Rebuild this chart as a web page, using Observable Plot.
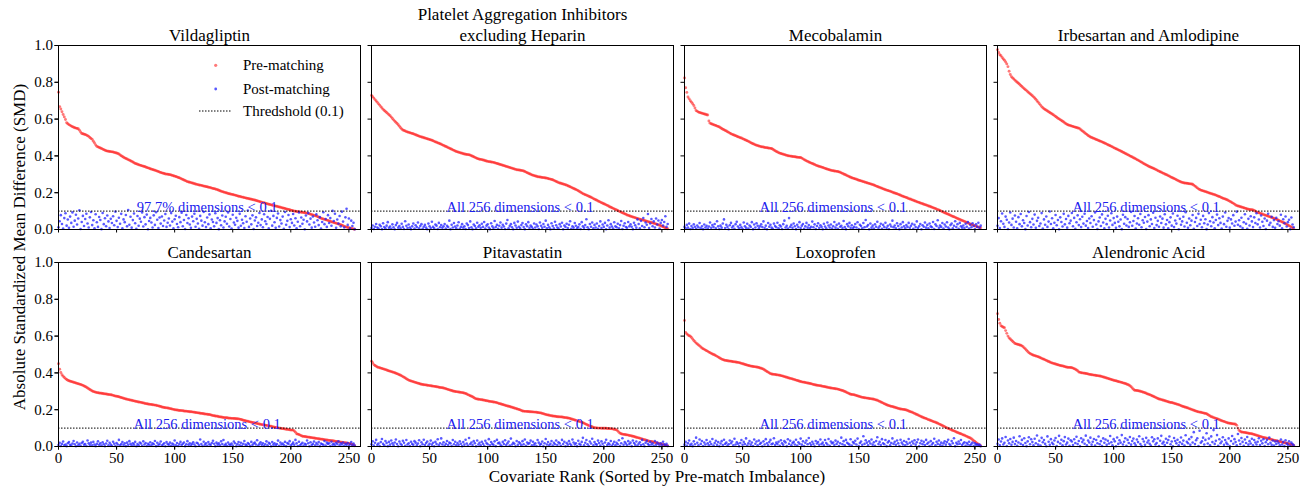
<!DOCTYPE html>
<html>
<head>
<meta charset="utf-8">
<script src="https://cdn.jsdelivr.net/npm/d3@7"></script>
<script src="https://cdn.jsdelivr.net/npm/@observablehq/plot@0.6"></script>
<style>
  html, body { margin: 0; padding: 0; background: #fff; }
  body { font-family: "Liberation Serif", "DejaVu Serif", serif; color: #000; }
  #wrap { position: relative; width: 1307px; height: 491px; overflow: hidden; }
  #wrap svg { display: block; }
  .ylab { position: absolute; left: 20px; top: 247px; transform: translate(-50%, -50%) rotate(-90deg); white-space: nowrap; font-size: 17px; }
  .xlab { position: absolute; left: 657px; top: 477px; transform: translate(-50%, -50%); white-space: nowrap; font-size: 17px; }
  .legend { position: absolute; left: 190px; top: 52px; }
</style>
</head>
<body>
<div id="wrap"></div>
<script>
// ---- data (SMD values stored in thousandths) ----
const drugs = ["Vildagliptin", "Platelet Aggregation Inhibitors\nexcluding Heparin", "Mecobalamin", "Irbesartan and Amlodipine",
               "Candesartan", "Pitavastatin", "Loxoprofen", "Alendronic Acid"];
const notes = ["97.7% dimensions < 0.1", "All 256 dimensions < 0.1", "All 256 dimensions < 0.1", "All 256 dimensions < 0.1",
               "All 256 dimensions < 0.1", "All 256 dimensions < 0.1", "All 256 dimensions < 0.1", "All 256 dimensions < 0.1"];
const threshold = 0.1;
const xTicks = [0, 50, 100, 150, 200, 250];
const yTicks = [0, 0.2, 0.4, 0.6, 0.8, 1.0];
const seriesNames = ["Pre-matching", "Post-matching", "Thredshold (0.1)"];

const preVildagliptin = [746,668,655,640,625,612,598,580,575,570,566,562,559,556,553,551,
549,548,540,530,522,520,518,516,513,510,506,500,495,490,480,470,
460,452,449,446,443,440,437,434,431,428,426,425,424,423,422,421,
419,417,416,413,410,405,401,397,393,389,386,383,380,377,374,370,
367,363,359,357,355,352,350,348,346,344,342,340,337,335,333,330,
328,326,324,322,320,317,315,312,310,308,306,304,302,301,300,299,
298,296,294,292,290,288,286,283,281,278,275,272,269,266,263,260,
258,257,255,253,251,249,247,245,244,242,241,240,238,236,235,233,
232,230,229,227,225,223,222,220,218,216,213,211,208,206,204,202,
200,198,196,194,193,191,190,188,187,185,183,181,180,178,176,175,
173,172,170,169,167,166,164,163,161,160,158,156,154,152,150,148,
146,145,143,141,139,137,136,134,132,131,129,127,126,124,122,121,
119,117,116,114,112,111,109,107,105,103,102,100,99,98,97,96,
95,94,93,92,91,90,89,87,85,83,81,79,77,75,73,71,
67,64,61,59,57,55,53,51,49,47,44,42,40,38,36,34,
32,30,28,26,24,21,17,15,13,11,10,8,6,5,3,1];
const postVildagliptin = [12,45,78,30,5,62,88,21,54,9,70,36,93,15,48,80,
27,60,104,3,41,74,19,57,86,33,11,66,95,24,50,7,
83,39,14,68,52,2,90,29,61,18,76,44,8,58,35,72,
23,97,47,13,64,31,85,6,55,40,79,17,106,26,69,10,
51,87,34,4,73,20,59,42,92,16,67,28,81,1,46,63,
38,11,77,25,94,53,8,65,32,71,19,49,84,14,37,60,
22,89,43,6,56,75,30,12,67,40,91,18,52,3,79,35,
61,27,9,70,45,86,15,58,33,4,74,48,21,96,39,13,
65,29,82,7,54,41,17,88,36,62,2,50,23,76,11,44,
69,31,93,16,57,5,80,38,26,64,47,10,85,20,53,34,
8,72,42,103,14,60,28,77,3,49,66,19,37,90,24,55,
12,83,45,30,68,6,58,102,21,74,39,9,63,87,16,51,
33,70,4,95,26,47,79,13,56,36,84,22,61,7,42,92,
18,65,31,53,1,76,44,89,27,59,10,71,38,15,82,50,
24,67,5,41,94,29,57,14,78,35,62,20,101,46,86,9,
54,32,73,17,97,43,11,66,113,25,60,6,48,19,37,2];

const prePlatelet = [728,722,714,706,699,691,683,676,668,661,653,647,641,636,630,624,
618,611,603,596,589,583,576,569,561,553,546,541,538,535,532,530,
528,526,524,522,520,517,515,512,510,507,505,503,501,499,497,495,
493,491,489,487,485,482,479,476,474,471,469,466,463,460,457,454,
451,448,445,442,439,436,433,430,427,424,422,420,418,416,414,412,
410,409,408,407,406,404,401,398,395,392,389,386,384,382,381,380,
378,376,374,372,370,369,368,367,366,365,363,361,359,357,355,353,
351,349,347,345,343,341,339,337,335,333,331,329,327,325,324,323,
322,321,320,318,315,312,309,306,303,300,297,295,293,291,289,287,
286,285,284,283,282,281,280,279,277,275,274,272,270,267,264,261,
258,255,253,251,249,247,245,243,241,238,235,232,229,226,223,220,
217,214,211,207,203,199,195,192,189,187,184,181,178,175,172,168,
165,162,159,155,152,149,146,143,140,137,134,131,128,124,121,118,
115,112,109,106,103,100,97,94,91,88,85,83,79,77,75,72,
70,68,66,64,62,60,58,56,54,52,51,49,47,45,43,41,
40,38,36,34,32,30,28,25,23,21,18,15,12,9,6,4];
const postPlatelet = [8,22,3,15,30,11,5,26,18,2,34,13,7,21,40,9,
16,4,28,12,1,24,36,10,19,6,31,14,3,45,20,8,
27,11,2,17,33,5,23,13,38,7,19,29,4,15,25,10,
1,32,18,8,42,14,6,27,21,3,36,12,24,9,17,30,
5,20,13,48,2,26,11,35,16,7,22,39,4,14,29,10,
18,3,33,24,8,44,12,1,27,19,6,37,15,23,9,31,
14,41,5,21,28,11,2,34,17,8,46,13,25,4,20,38,
10,26,16,3,32,52,7,19,29,12,1,36,22,9,43,15,
6,24,35,13,2,28,18,40,8,21,14,4,33,11,27,17,
3,38,20,9,30,15,48,6,25,12,2,34,19,7,42,23,
11,5,29,16,37,1,22,14,31,8,26,45,4,18,10,35,
20,7,13,28,3,40,17,9,24,56,12,2,30,15,38,6,
25,11,33,4,19,44,8,27,14,36,1,22,50,10,29,16,
5,39,18,12,31,7,24,46,3,20,34,13,9,41,17,28,
15,2,37,23,10,55,30,6,47,19,62,12,38,26,84,8,
33,57,18,44,11,60,27,49,5,36,52,22,41,72,14,30];

const preMecobalamin = [823,770,745,720,710,700,692,684,674,660,647,642,638,636,634,632,
630,628,626,624,622,590,578,575,572,570,567,565,562,560,557,553,
549,545,542,538,535,531,528,524,520,517,515,512,510,507,504,502,
499,497,494,491,488,485,482,479,476,472,469,466,463,460,458,456,
454,452,450,449,448,446,445,444,443,442,441,440,436,432,428,424,
421,418,415,413,411,409,407,405,403,401,400,399,398,397,396,395,
394,393,392,391,391,388,384,380,376,373,370,367,364,361,359,356,
353,350,347,345,343,341,339,337,335,332,330,328,326,324,322,320,
319,318,317,316,315,313,311,308,305,302,299,296,293,290,287,284,
281,279,277,275,273,270,268,266,264,262,260,258,256,254,252,250,
248,246,244,242,239,236,234,231,229,226,224,221,219,216,214,212,
210,208,206,203,200,198,196,194,191,189,186,183,181,178,176,174,
171,168,166,164,161,159,156,154,151,149,147,144,142,140,137,135,
133,131,128,126,124,121,119,116,114,111,108,106,103,100,97,94,
91,88,86,83,80,77,74,71,69,66,63,60,57,55,52,49,
47,44,41,38,35,33,30,27,25,22,20,17,15,13,11,9];
const postMecobalamin = [14,6,25,10,32,3,19,8,28,15,4,22,12,35,7,18,
2,27,11,20,5,16,38,9,24,13,30,6,45,17,3,21,
10,33,55,8,26,14,1,23,36,11,19,4,29,42,16,7,
25,12,3,38,18,9,31,5,22,14,40,2,27,11,34,20,
6,17,28,13,44,8,21,1,35,15,26,10,4,32,19,12,
37,7,23,16,3,29,48,11,20,5,62,14,25,9,33,18,
2,26,13,40,8,21,30,4,17,36,10,24,6,15,43,12,
28,3,19,34,9,23,14,1,31,16,7,38,22,11,27,5,
18,41,10,25,4,32,15,20,8,46,13,2,29,17,36,9,
23,6,14,30,11,39,3,26,19,7,35,12,52,16,24,1,
33,10,21,5,28,15,42,8,18,31,4,25,13,37,9,20,
3,27,16,48,12,22,6,34,19,2,29,11,40,17,7,24,
14,36,9,20,31,4,26,13,44,8,18,30,1,23,15,38,
10,25,6,33,17,12,41,3,28,19,50,9,22,14,35,5,
27,16,39,11,2,24,32,7,20,45,13,29,4,36,18,10,
22,8,31,15,40,5,26,12,34,19,3,28,14,37,9,21];

const preIrbesartan = [977,962,950,944,935,927,920,910,900,885,860,842,830,824,818,812,
806,800,795,789,783,777,771,765,760,755,749,743,738,732,727,721,
715,708,700,692,684,676,668,662,656,652,648,644,640,636,632,628,
624,619,614,610,605,601,597,592,588,584,579,575,571,568,566,564,
562,560,558,556,554,552,551,546,541,536,531,526,521,516,511,507,
503,500,497,495,492,489,487,484,481,479,476,473,470,467,464,461,
458,455,452,449,445,442,439,436,433,430,427,424,420,417,413,410,
407,404,400,397,394,390,387,384,380,377,373,369,366,362,358,355,
351,348,344,341,338,336,333,330,327,324,320,317,314,311,308,305,
302,299,296,293,290,286,283,280,277,274,270,267,264,261,258,256,
254,253,252,251,250,249,248,247,246,241,236,231,226,221,217,214,
212,210,208,206,204,202,199,197,195,193,191,189,187,184,181,179,
176,173,170,168,166,163,160,157,153,150,146,142,138,133,130,128,
126,124,122,120,118,116,114,112,110,109,108,107,106,104,99,96,
93,91,88,86,84,81,79,77,75,72,70,68,65,63,61,58,
56,53,50,47,44,41,38,35,31,28,24,21,17,13,9,5];
const postIrbesartan = [20,62,8,45,87,31,14,70,53,3,38,92,25,59,11,76,
42,6,67,29,84,17,50,35,2,73,22,95,40,12,58,27,
81,9,47,64,19,33,89,5,55,26,71,14,43,98,30,61,
7,37,79,23,52,1,66,41,16,85,28,57,10,74,34,48,
90,18,63,4,39,77,24,56,13,69,32,86,21,46,8,60,
35,72,15,51,93,27,3,44,65,19,82,38,6,58,29,75,
11,49,88,25,62,36,9,70,42,17,54,2,80,31,67,22,
57,14,39,96,20,46,73,5,33,61,26,84,12,50,37,68,
3,43,78,18,55,30,91,8,64,24,47,15,71,35,59,10,
83,28,52,6,40,66,21,87,13,49,32,75,1,58,26,44,
69,16,94,37,9,60,23,48,79,4,41,63,19,85,30,53,
12,74,34,56,2,27,89,45,18,67,38,7,52,81,24,61,
36,5,70,29,92,15,47,62,10,55,33,78,20,43,97,26,
50,17,64,8,39,83,31,4,58,22,72,44,13,66,35,88,
28,54,11,76,42,19,60,3,48,86,25,37,69,14,51,9,
63,30,45,21,80,6,56,34,71,16,40,53,2,65,27,12];

const preCandesartan = [450,420,402,390,382,375,369,364,360,357,355,353,351,349,347,345,
343,341,339,337,335,332,329,326,322,318,314,310,306,302,299,297,
295,293,292,291,290,289,288,287,286,285,284,283,282,281,280,278,
276,274,273,272,270,268,266,264,262,260,258,257,255,254,252,251,
249,248,246,245,243,242,241,240,238,237,235,233,232,231,230,229,
228,227,226,225,224,222,221,219,217,215,213,212,211,210,209,208,
206,205,203,202,200,199,198,197,196,196,195,194,193,192,192,191,
190,189,189,188,187,186,185,184,183,182,181,180,179,178,177,176,
175,174,174,172,170,168,167,166,165,164,162,161,160,159,158,157,
156,156,155,154,154,153,153,152,152,151,151,150,149,147,145,143,
141,140,138,137,135,134,132,131,129,128,126,125,123,122,120,119,
118,117,116,115,114,112,111,110,108,106,105,104,103,101,100,99,
98,97,96,95,94,93,92,91,90,89,89,84,78,69,67,65,
62,59,56,55,54,53,52,51,50,49,48,47,46,45,44,43,
42,41,40,39,38,37,36,35,34,33,33,32,31,30,29,28,
27,26,25,24,23,22,21,20,19,18,17,15,13,11,8,4];
const postCandesartan = [8,20,3,14,27,6,11,2,18,24,9,5,16,30,12,1,
22,7,15,4,19,26,10,13,3,33,17,8,21,6,25,11,
2,14,28,9,18,5,23,12,1,16,31,7,20,10,4,26,
15,3,19,11,36,6,13,24,8,17,2,21,9,29,14,5,
18,10,25,1,13,7,22,16,4,28,11,19,3,15,9,23,
6,17,12,30,2,20,8,14,27,5,11,18,1,24,13,9,
21,4,16,10,33,7,19,3,13,25,8,15,22,2,12,29,
9,18,5,14,23,11,1,20,16,6,38,13,3,26,10,17,
4,24,12,8,19,31,15,2,21,10,17,6,28,13,35,7,
14,3,22,11,9,16,5,27,18,1,12,24,7,20,4,15,
30,10,6,19,13,2,25,8,16,21,11,34,5,14,23,9,
17,3,12,28,7,20,15,1,24,10,18,6,13,32,4,22,
11,16,8,25,2,19,14,29,5,12,21,9,36,17,3,26,
7,13,20,4,15,10,33,18,1,23,8,14,27,6,19,11,
24,2,16,12,9,30,5,21,14,18,3,26,10,15,7,20,
13,28,6,17,11,22,4,15,9,19,2,12,24,7,16,5];

const prePitavastatin = [463,455,445,440,436,432,430,428,426,424,422,420,418,416,413,411,
409,407,405,403,401,398,396,393,390,387,384,380,376,372,368,364,
361,358,356,354,352,350,348,346,344,342,340,338,337,336,335,334,
333,332,331,330,329,328,327,326,325,324,322,321,320,319,318,316,
314,312,310,308,306,304,302,300,299,298,297,296,295,294,293,292,
290,288,285,282,279,276,273,270,266,262,259,258,257,256,255,254,
253,252,250,249,248,246,245,244,243,242,241,240,238,236,233,232,
230,228,226,224,222,220,219,217,215,213,211,209,207,205,203,201,
199,196,193,192,191,191,190,190,189,189,188,188,187,187,186,185,
184,183,182,180,178,176,174,172,171,170,168,167,166,165,164,163,
162,162,161,161,160,159,158,157,156,155,154,152,150,148,146,144,
142,140,138,136,134,132,129,126,123,120,117,114,111,109,107,104,
102,101,101,100,100,100,99,99,99,99,99,98,98,97,97,96,
95,93,92,90,85,78,72,69,67,66,65,64,63,62,60,59,
57,56,54,52,50,48,47,45,43,41,38,37,35,33,31,29,
28,27,26,24,22,20,19,17,15,14,12,10,9,7,6,4];
const postPitavastatin = [12,28,5,20,36,9,16,3,24,41,14,7,30,19,2,25,
10,33,17,6,22,38,13,1,27,15,8,31,20,4,35,11,
18,3,26,14,9,29,21,6,16,34,2,23,12,37,8,19,
27,5,15,32,10,20,1,25,13,39,7,18,44,11,23,4,
14,30,8,21,17,3,35,12,26,6,19,9,28,15,2,24,
10,37,16,5,46,13,22,8,29,18,1,33,11,20,7,26,
15,4,31,19,12,40,6,24,14,9,28,2,36,17,21,10,
3,25,13,34,8,18,27,5,43,11,20,15,1,30,9,23,
16,7,29,12,38,4,22,14,19,32,6,26,10,17,3,35,
21,9,14,27,2,18,41,11,24,7,15,30,5,20,12,33,
8,23,17,4,36,13,26,1,19,10,29,15,6,38,22,11,
18,2,31,14,9,25,47,7,20,35,12,3,27,16,42,6,
24,13,10,32,19,5,28,15,1,22,37,8,17,11,30,4,
14,26,7,20,12,34,3,18,45,9,24,16,6,29,13,21,
2,33,19,10,27,5,15,23,8,36,12,1,20,31,14,7,
25,11,17,4,30,9,22,13,2,18,8,26,12,5,15,3];

const preLoxoprofen = [685,620,612,606,602,599,592,584,576,569,562,557,552,547,541,535,
531,528,524,521,517,513,510,506,503,500,497,494,490,486,482,478,
475,472,470,468,467,466,465,464,463,462,461,460,459,458,457,456,
454,452,450,448,446,444,442,440,439,437,436,435,434,433,432,431,
429,427,425,423,420,416,412,408,404,400,396,394,393,392,391,390,
389,388,387,385,384,382,380,378,376,374,372,370,369,367,365,363,
361,359,357,355,353,351,350,349,348,346,345,344,342,341,339,337,
336,334,333,332,331,330,329,327,326,325,323,322,320,319,318,317,
316,315,314,313,312,310,308,306,304,302,299,296,293,290,287,284,
283,282,281,279,277,275,273,271,269,267,266,265,264,263,262,261,
260,259,258,257,255,253,251,248,245,242,239,236,233,230,227,224,
222,220,218,217,215,213,211,209,207,205,204,203,202,201,200,198,
196,193,190,188,186,183,180,177,174,171,168,165,162,159,156,154,
152,149,146,144,141,139,136,134,132,129,126,123,120,117,114,111,
107,104,101,98,96,93,90,87,85,82,79,76,74,71,69,66,
63,61,58,55,52,49,46,42,37,32,27,22,17,12,7,4];
const postLoxoprofen = [10,25,4,18,33,8,15,2,28,12,48,20,6,38,14,30,
3,22,11,35,17,7,26,13,41,5,19,31,9,24,1,16,
29,8,37,14,21,4,12,33,18,27,6,42,11,23,15,2,
19,35,9,25,13,44,5,17,30,10,22,3,38,15,27,7,
32,14,20,1,28,11,40,18,6,24,36,12,16,45,8,21,
13,26,4,34,17,9,29,22,2,39,14,31,7,19,25,11,
37,5,23,15,43,10,28,3,20,33,12,46,18,8,26,14,
1,30,16,24,9,38,13,21,6,35,19,11,41,4,27,17,
22,8,32,14,26,3,18,48,12,29,7,36,20,15,10,39,
5,24,17,31,11,43,2,19,27,9,56,14,34,21,6,28,
16,38,10,23,4,30,50,13,25,8,40,18,12,35,2,22,
29,7,19,44,14,26,9,33,17,3,37,21,11,30,6,24,
13,41,20,5,27,16,34,10,23,38,1,18,31,12,25,8,
36,15,22,3,29,11,19,42,7,26,14,33,9,21,4,17,
28,10,24,37,13,6,30,18,45,2,20,12,27,15,35,8,
16,23,4,19,11,26,7,14,22,3,17,9,12,5,10,2];

const preAlendronic = [722,690,670,656,652,648,645,630,615,600,590,584,578,572,566,560,
558,556,554,552,550,547,542,536,530,523,516,510,506,502,499,496,
494,492,490,488,485,482,479,476,474,471,468,465,462,459,456,454,
452,450,448,446,444,442,440,439,438,436,434,432,431,430,430,429,
428,426,423,420,416,412,405,403,401,400,399,398,397,396,394,392,
391,390,389,388,387,386,385,384,383,382,380,378,376,374,372,370,
368,366,364,362,360,358,357,355,353,351,350,348,346,344,342,340,
337,334,330,325,318,311,306,305,304,303,302,300,298,296,294,292,
289,286,284,282,279,276,273,270,267,264,261,258,257,255,253,251,
249,247,245,243,241,239,239,237,235,233,231,229,227,225,222,219,
217,215,213,211,209,206,204,202,199,197,194,192,190,188,187,186,
184,183,181,180,178,174,170,166,162,160,157,155,153,151,149,146,
143,140,138,136,134,131,129,127,126,125,124,123,122,121,115,100,
88,82,79,78,77,76,75,74,72,71,70,69,67,65,63,61,
59,57,55,53,51,49,48,46,45,43,42,40,38,36,34,33,
31,30,28,27,25,24,22,21,19,18,16,14,12,11,9,7];
const postAlendronic = [15,38,6,27,44,11,20,52,3,33,17,41,9,25,48,13,
30,4,22,56,14,36,8,45,19,2,28,50,12,39,24,7,
42,18,60,10,31,5,47,23,35,14,1,55,26,9,40,20,
12,33,46,3,25,58,16,37,7,29,51,11,21,43,4,34,
27,8,39,19,53,13,30,2,45,24,36,15,59,6,32,22,
48,10,26,41,5,35,18,54,12,29,3,44,20,38,9,31,
16,57,23,7,40,28,1,49,14,34,21,62,11,26,45,4,
36,19,52,10,30,43,17,6,38,24,56,13,2,41,27,9,
47,22,33,15,5,50,28,39,11,19,44,3,31,58,16,25,
8,42,20,35,54,12,27,1,46,30,17,37,7,23,49,14,
32,5,61,26,18,40,9,51,22,78,13,34,45,3,86,20,
28,48,11,36,72,16,43,6,55,24,89,14,31,62,4,39,
18,27,50,9,35,21,12,44,2,30,57,15,40,24,7,68,
33,13,46,25,4,38,19,52,10,29,16,42,6,35,22,11,
26,45,8,31,17,40,3,23,36,12,48,20,9,33,5,27,
14,30,19,6,38,11,25,2,34,16,9,28,4,21,13,7];

const preMatch = [preVildagliptin, prePlatelet, preMecobalamin, preIrbesartan, preCandesartan, prePitavastatin, preLoxoprofen, preAlendronic];
const postMatch = [postVildagliptin, postPlatelet, postMecobalamin, postIrbesartan, postCandesartan, postPitavastatin, postLoxoprofen, postAlendronic];

// ---- tables built from the arrays ----
const panelOf = i => ({col: i % 4, row: Math.floor(i / 4)});
const preRows = preMatch.flatMap((arr, i) => arr.map((v, k) => ({...panelOf(i), rank: k, smd: v / 1000})));
const postRows = postMatch.flatMap((arr, i) => arr.map((v, k) => ({...panelOf(i), rank: k, smd: v / 1000})));
const titleRows = drugs.map((name, i) => ({...panelOf(i), name}));
const noteRows = notes.map((text, i) => ({...panelOf(i), text, x: preMatch[i].length / 2, y: threshold}));

const redFill = "#ff2020";
const blueFill = "#2020ff";
const noteColor = "#2020ee";
const FONT = "'Liberation Serif', 'DejaVu Serif', serif";

const chart = Plot.plot({
  width: 1307,
  height: 491,
  marginLeft: 57,
  marginRight: 7,
  marginTop: 45,
  marginBottom: 44,
  style: {fontFamily: FONT, fontSize: "15px", color: "black", background: "white", overflow: "visible"},
  fx: {domain: [0, 1, 2, 3], paddingInner: 0.034, paddingOuter: 0, axis: null},
  fy: {domain: [0, 1], paddingInner: 0.151, paddingOuter: 0, axis: null},
  x: {domain: [0, 260]},
  y: {domain: [0, 1]},
  marks: [
    Plot.dot(preRows, {fx: "col", fy: "row", x: "rank", y: "smd", r: 1.45, fill: redFill, fillOpacity: 0.6, stroke: "none"}),
    Plot.dot(postRows, {fx: "col", fy: "row", x: "rank", y: "smd", r: 1.3, fill: blueFill, fillOpacity: 0.75, stroke: "none"}),
    Plot.ruleY([threshold], {stroke: "black", strokeWidth: 1, strokeDasharray: "1.5,1.5"}),
    Plot.text(noteRows, {fx: "col", fy: "row", x: "x", y: "y", text: "text", fill: noteColor, fontSize: 14.5, lineAnchor: "bottom", dy: 1}),
    Plot.text(titleRows, {fx: "col", fy: "row", text: "name", frameAnchor: "top", lineAnchor: "bottom", dy: -5, fontSize: 17, lineHeight: 1.18}),
    Plot.frame({stroke: "black", strokeWidth: 1}),
    Plot.axisX({ticks: xTicks, tickSize: 3.5, tickPadding: 2, fontSize: 15, label: null}),
    Plot.axisX({ticks: xTicks, tickSize: 3.5, tickFormat: () => "", label: null, facetAnchor: null}),
    Plot.axisY({ticks: yTicks, tickSize: 3.5, tickPadding: 2, tickFormat: ".1f", fontSize: 15, label: null}),
    Plot.axisY({ticks: yTicks, tickSize: 3.5, tickFormat: () => "", label: null, facetAnchor: null})
  ]
});

const wrap = document.getElementById("wrap");
wrap.appendChild(chart);

const ylab = document.createElement("div");
ylab.className = "ylab";
ylab.textContent = "Absolute Standardized Mean Difference (SMD)";
wrap.appendChild(ylab);

const xlab = document.createElement("div");
xlab.className = "xlab";
xlab.textContent = "Covariate Rank (Sorted by Pre-match Imbalance)";
wrap.appendChild(xlab);

// legend (inside first panel, upper right)
const leg = document.createElement("div");
leg.className = "legend";
leg.innerHTML = `<svg width="170" height="72" style="font-family:${FONT.replace(/'/g, '&quot;')};font-size:15px;">
  <circle cx="25.7" cy="13.3" r="1.6" fill="${redFill}" fill-opacity="0.6"></circle>
  <text x="53" y="13.3" dominant-baseline="central">${seriesNames[0]}</text>
  <circle cx="25.7" cy="37" r="1.4" fill="${blueFill}" fill-opacity="0.75"></circle>
  <text x="53" y="37" dominant-baseline="central">${seriesNames[1]}</text>
  <line x1="9" x2="41" y1="59" y2="59" stroke="black" stroke-width="1" stroke-dasharray="1.5,1.5"></line>
  <text x="53" y="59" dominant-baseline="central">${seriesNames[2]}</text>
</svg>`;
wrap.appendChild(leg);
</script>
</body>
</html>
